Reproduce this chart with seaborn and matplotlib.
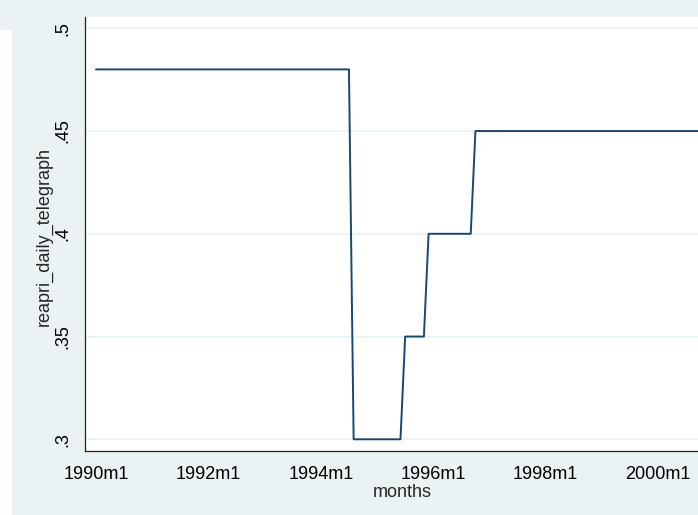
import matplotlib
matplotlib.use("Agg")
import matplotlib.pyplot as plt
import matplotlib.patches as mpatches
import pandas as pd
import seaborn as sns

# Monthly series: vertices where the rate changes (Stata %tm labels)
month_codes = ["1990m1", "1994m7", "1994m8", "1995m6", "1995m7",
               "1995m11", "1995m12", "1996m9", "1996m10", "2000m12"]
rate_values = [0.48, 0.48, 0.30, 0.30, 0.35, 0.35, 0.40, 0.40, 0.45, 0.45]

x_tick_labels = ["1990m1", "1992m1", "1994m1", "1996m1", "1998m1", "2000m1"]
y_tick_values = [0.30, 0.35, 0.40, 0.45, 0.50]
y_tick_labels = [".3", ".35", ".4", ".45", ".5"]


def tm(code):
    """Months elapsed since 1990m1 for a Stata-style month code."""
    year, month = code.split("m")
    return (int(year) - 1990) * 12 + int(month) - 1


df = pd.DataFrame({"months": [tm(c) for c in month_codes],
                   "reapri_daily_telegraph": rate_values})

sns.set_style("white")
plt.rcParams["font.family"] = ["Liberation Sans", "DejaVu Sans"]

BG = "#eaf2f3"
NAVY = "#1a476f"

W, H = 698, 515
fig = plt.figure(figsize=(W / 100, H / 100), dpi=100, facecolor=BG)

# white strip along the left edge of the window
fig.patches.append(mpatches.Rectangle((0, 0), 12 / W, (H - 30) / H,
                                      transform=fig.transFigure,
                                      facecolor="white", edgecolor="none",
                                      zorder=0))

left, right, top, bottom = 85, 719, 17, 451
ax = fig.add_axes([left / W, (H - bottom) / H,
                   (right - left) / W, (bottom - top) / H])
ax.set_facecolor("white")

sns.lineplot(data=df, x="months", y="reapri_daily_telegraph", ax=ax,
             color=NAVY, linewidth=1.4, estimator=None, sort=False)

ax.set_xlim(-2.35, 133.0)
ax.set_ylim(0.2943, 0.5055)

ax.set_xticks([tm(t) for t in x_tick_labels])
ax.set_xticklabels(x_tick_labels, fontsize=13)
ax.set_yticks(y_tick_values)
ax.set_yticklabels(y_tick_labels, fontsize=13, rotation=90, va="center")

for y in y_tick_values:
    ax.axhline(y, color=BG, linewidth=1.3, zorder=0)

for side in ["top", "right"]:
    ax.spines[side].set_visible(False)
for side in ["left", "bottom"]:
    ax.spines[side].set_color("#222222")
    ax.spines[side].set_linewidth(0.9)

ax.tick_params(axis="both", direction="out", length=6.5, width=0.8,
               color="#222222", pad=3.5, labelcolor="black")
ax.tick_params(axis="x", pad=4)

ax.set_xlabel("months", fontsize=13, labelpad=1)
ax.set_ylabel("reapri_daily_telegraph", fontsize=13)
ax.yaxis.set_label_coords(-32 / (right - left), 0.495)

fig.savefig("out.png", dpi=100, facecolor=BG)
